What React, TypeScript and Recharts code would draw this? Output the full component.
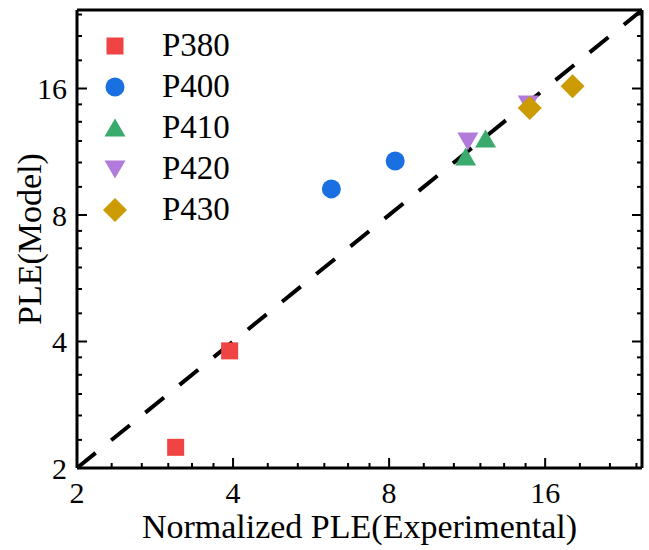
import { ScatterChart, Scatter, XAxis, YAxis, ReferenceLine, Legend } from "recharts";

const seriesNames = ["P380", "P400", "P410", "P420", "P430"];

// normalized PLE (experimental) -> x, PLE (model) -> y
const p380X = [3.1, 3.94];
const p380Y = [2.24, 3.8];
const p400X = [6.19, 8.22];
const p400Y = [9.23, 10.75];
const p410X = [11.24, 12.28];
const p410Y = [10.99, 12.13];
const p420X = [11.35, 14.84];
const p420Y = [12.0, 14.7];
const p430X = [14.94, 18.07];
const p430Y = [14.38, 16.2];

const majorTicks = [2, 4, 8, 16];
const minorTicks = [
  2.333, 2.667, 3, 3.333, 3.667,
  4.667, 5.333, 6, 6.667, 7.333,
  9.333, 10.667, 12, 13.333, 14.667,
  18.667, 21.333, 24,
];
const allTicks = [...majorTicks, ...minorTicks].sort((a, b) => a - b);
const axisDomain = [2, 24.6];

const colors = ["#f04343", "#1a70e0", "#3aab6c", "#b27bdb", "#cc9a03"];
const shapes = ["square", "circle", "triangle", "triangleDown", "diamond"];

const FONT = "'Liberation Serif', 'Times New Roman', serif";

const toPoints = (xs: number[], ys: number[]) => xs.map((x, i) => ({ x, y: ys[i] }));
const seriesData = [
  toPoints(p380X, p380Y),
  toPoints(p400X, p400Y),
  toPoints(p410X, p410Y),
  toPoints(p420X, p420Y),
  toPoints(p430X, p430Y),
];

const Marker = ({ kind, cx, cy, fill }: any) => {
  switch (kind) {
    case "square":
      return <rect x={cx - 8.5} y={cy - 8.5} width={17} height={17} fill={fill} />;
    case "circle":
      return <circle cx={cx} cy={cy} r={9.5} fill={fill} />;
    case "triangle":
      return <polygon points={`${cx},${cy - 9.5} ${cx + 10.5},${cy + 8.5} ${cx - 10.5},${cy + 8.5}`} fill={fill} />;
    case "triangleDown":
      return <polygon points={`${cx - 10.5},${cy - 8.5} ${cx + 10.5},${cy - 8.5} ${cx},${cy + 9.5}`} fill={fill} />;
    default:
      return <polygon points={`${cx},${cy - 12} ${cx + 12},${cy} ${cx},${cy + 12} ${cx - 12},${cy}`} fill={fill} />;
  }
};

const tickLen = (v: number) => (majorTicks.includes(v) ? 10 : 5);

const BottomTick = ({ x, y, payload }: any) => (
  <g>
    <line x1={x} x2={x} y1={y} y2={y - tickLen(payload.value)} stroke="#000" strokeWidth={2} />
    {majorTicks.includes(payload.value) && (
      <text x={x} y={y + 24} textAnchor="middle" dominantBaseline="central" fontSize={30} fontFamily={FONT} fill="#000">
        {payload.value}
      </text>
    )}
  </g>
);

const LeftTick = ({ x, y, payload }: any) => (
  <g>
    <line x1={x} x2={x + tickLen(payload.value)} y1={y} y2={y} stroke="#000" strokeWidth={2} />
    {majorTicks.includes(payload.value) && (
      <text x={x - 10} y={y} textAnchor="end" dominantBaseline="central" fontSize={30} fontFamily={FONT} fill="#000">
        {payload.value}
      </text>
    )}
  </g>
);

const TopTick = ({ x, y, payload }: any) => (
  <line x1={x} x2={x} y1={y} y2={y + tickLen(payload.value)} stroke="#000" strokeWidth={2} />
);

const RightTick = ({ x, y, payload }: any) => (
  <line x1={x} x2={x - tickLen(payload.value)} y1={y} y2={y} stroke="#000" strokeWidth={2} />
);

const XTitle = ({ viewBox }: any) => (
  <text x={viewBox.x + viewBox.width / 2} y={viewBox.y + 70} textAnchor="middle" fontSize={34} fontFamily={FONT} fill="#000">
    Normalized PLE(Experimental)
  </text>
);

const YTitle = ({ viewBox }: any) => {
  const cx = 29;
  const cy = viewBox.y + viewBox.height / 2;
  return (
    <text x={cx} y={cy} transform={`rotate(-90 ${cx} ${cy})`} textAnchor="middle" dominantBaseline="central" fontSize={34} fontFamily={FONT} fill="#000">
      PLE(Model)
    </text>
  );
};

const LegendBox = () => (
  <div style={{ fontFamily: FONT, fontSize: 33, color: "#000" }}>
    {seriesNames.map((name, i) => (
      <div key={name} style={{ display: "flex", alignItems: "center", height: 41 }}>
        <svg width={30} height={30} style={{ marginRight: 32 }}>
          <Marker kind={shapes[i]} cx={15} cy={15} fill={colors[i]} />
        </svg>
        <span>{name}</span>
      </div>
    ))}
  </div>
);

const axisCommon = {
  type: "number" as const,
  scale: "log" as const,
  domain: axisDomain,
  allowDataOverflow: true,
  ticks: allTicks,
  interval: 0,
  tickSize: 0,
  tickMargin: 0,
  tickLine: false,
  axisLine: { stroke: "#000", strokeWidth: 3 },
};

export default function App() {
  return (
    <div>
      <style>{"body{margin:0}"}</style>
      <ScatterChart width={649} height={550} margin={{ top: 9, right: 6, left: 0, bottom: 0 }} style={{ background: "#fff" }}>
        <XAxis xAxisId="main" dataKey="x" orientation="bottom" height={82} {...axisCommon} tick={<BottomTick />} label={<XTitle />} />
        <XAxis xAxisId="top" orientation="top" height={1} {...axisCommon} tick={<TopTick />} />
        <YAxis yAxisId="main" dataKey="y" orientation="left" width={77} {...axisCommon} tick={<LeftTick />} label={<YTitle />} />
        <YAxis yAxisId="right" orientation="right" width={1} {...axisCommon} tick={<RightTick />} />
        {seriesNames.map((name, i) => (
          <Scatter
            key={name}
            name={name}
            xAxisId="main"
            yAxisId="main"
            data={seriesData[i]}
            fill={colors[i]}
            isAnimationActive={false}
            shape={(p: any) => <Marker kind={shapes[i]} cx={p.cx} cy={p.cy} fill={colors[i]} />}
          />
        ))}
        <ReferenceLine
          xAxisId="main"
          yAxisId="main"
          segment={[{ x: axisDomain[0], y: axisDomain[0] }, { x: axisDomain[1], y: axisDomain[1] }]}
          stroke="#000"
          strokeWidth={4}
          strokeDasharray="24 20"
          ifOverflow="visible"
        />
        <Legend
          layout="vertical"
          align="center"
          verticalAlign="middle"
          content={<LegendBox />}
          wrapperStyle={{ top: 25, left: 100, width: "auto" }}
        />
      </ScatterChart>
    </div>
  );
}
